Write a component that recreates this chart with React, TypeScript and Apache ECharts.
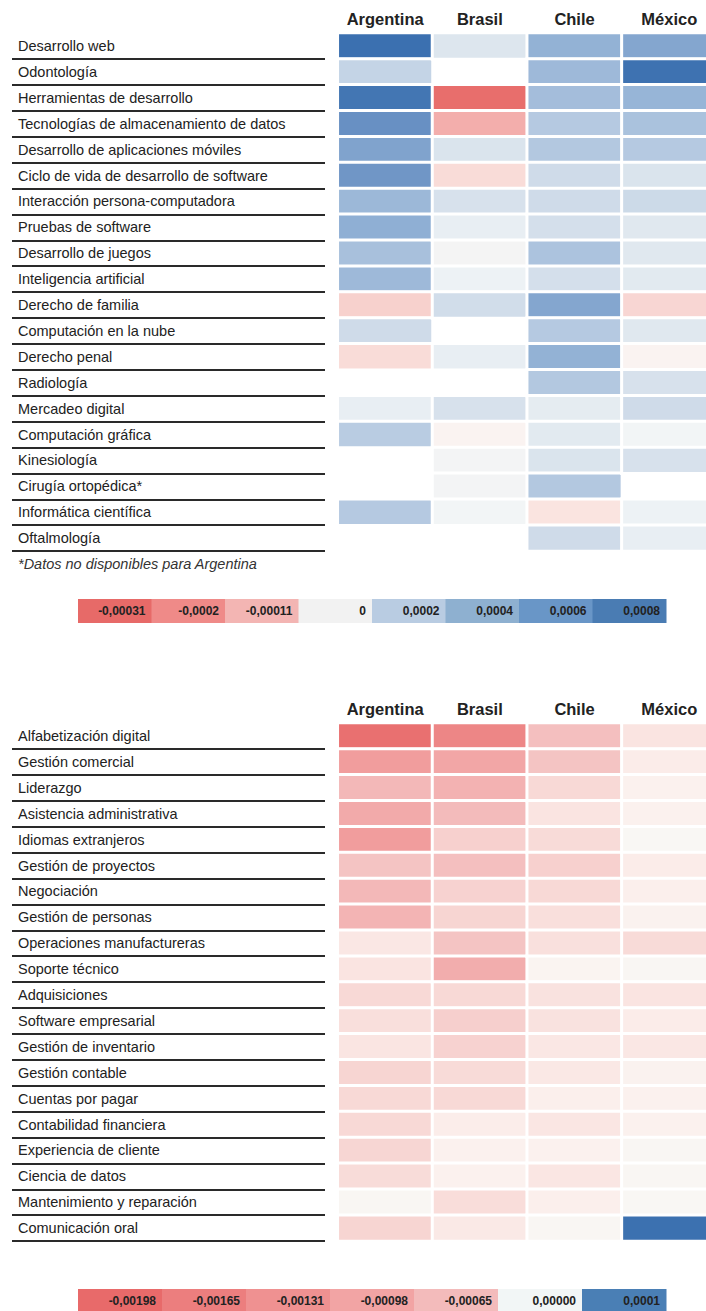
import React, { useEffect, useRef } from "react";
import * as echarts from "echarts";

// ---------- DATA ----------
const countries = ["Argentina", "Brasil", "Chile", "México"];

const skills1 = [
  "Desarrollo web",
  "Odontología",
  "Herramientas de desarrollo",
  "Tecnologías de almacenamiento de datos",
  "Desarrollo de aplicaciones móviles",
  "Ciclo de vida de desarrollo de software",
  "Interacción persona-computadora",
  "Pruebas de software",
  "Desarrollo de juegos",
  "Inteligencia artificial",
  "Derecho de familia",
  "Computación en la nube",
  "Derecho penal",
  "Radiología",
  "Mercadeo digital",
  "Computación gráfica",
  "Kinesiología",
  "Cirugía ortopédica*",
  "Informática científica",
  "Oftalmología",
];
const arg1 = [0.0009, 0.00016, 0.00085, 0.00062, 0.00048, 0.00057, 0.00034, 0.0004, 0.00028, 0.00033, -0.00006, 0.00012, -0.00004, null, 0.00003, 0.0002, null, null, 0.00022, null];
const bra1 = [0.00007, null, -0.0003, -0.00012, 0.00008, -0.00004, 0.00009, 0.00003, 0.0, 0.00002, 0.00011, null, 0.00003, null, 0.00009, -0.00001, 0.000005, 0.000005, 0.00001, null];
const chi1 = [0.00038, 0.00033, 0.0003, 0.00022, 0.00023, 0.00012, 0.00012, 0.0001, 0.00026, 0.0001, 0.00046, 0.00022, 0.00038, 0.00023, 0.00004, 0.00005, 0.00008, 0.00023, -0.00003, 0.00012];
const mex1 = [0.00046, 0.00088, 0.00036, 0.00027, 0.00022, 0.00008, 0.00013, 0.00006, 0.00006, 0.00005, -0.00005, 0.00006, -0.00001, 0.00009, 0.00012, 0.00001, 0.00009, null, 0.00002, 0.00003];

const skills2 = [
  "Alfabetización digital",
  "Gestión comercial",
  "Liderazgo",
  "Asistencia administrativa",
  "Idiomas extranjeros",
  "Gestión de proyectos",
  "Negociación",
  "Gestión de personas",
  "Operaciones manufactureras",
  "Soporte técnico",
  "Adquisiciones",
  "Software empresarial",
  "Gestión de inventario",
  "Gestión contable",
  "Cuentas por pagar",
  "Contabilidad financiera",
  "Experiencia de cliente",
  "Ciencia de datos",
  "Mantenimiento y reparación",
  "Comunicación oral",
];
const arg2 = [-0.0019, -0.0011, -0.0007, -0.0009, -0.0011, -0.00055, -0.0007, -0.00075, -0.00017, -0.0002, -0.0003, -0.00025, -0.00019, -0.00035, -0.0003, -0.0003, -0.00034, -0.00027, -0.00002, -0.00035];
const bra2 = [-0.0015, -0.00095, -0.00078, -0.00065, -0.0004, -0.0006, -0.00038, -0.00035, -0.00055, -0.00085, -0.0003, -0.00042, -0.00038, -0.00028, -0.0003, -0.00012, -0.00008, -0.00008, -0.00026, -0.00015];
const chi2 = [-0.0006, -0.00055, -0.0003, -0.0002, -0.00028, -0.0004, -0.0003, -0.00025, -0.00024, -0.00004, -0.00022, -0.00022, -0.00017, -0.00016, -0.0001, -0.00018, -0.00008, -0.00018, -0.0001, -0.00002];
const mex2 = [-0.0002, -0.00013, -0.00008, -0.00008, -0.00001, -0.00013, -0.0001, -0.00007, -0.00028, -0.00002, -0.0002, -0.00013, -0.00017, -0.00007, -0.00008, -0.00008, -0.00002, -0.00002, -0.00001, 0.0001];

const legendLabels1 = ["-0,00031", "-0,0002", "-0,00011", "0", "0,0002", "0,0004", "0,0006", "0,0008"];
const legendColors1 = ["#e76a68", "#ef8a88", "#f3b5b3", "#f2f2f2", "#b9cce2", "#8eb0d0", "#6996c7", "#4a7cb3"];
const legendLabels2 = ["-0,00198", "-0,00165", "-0,00131", "-0,00098", "-0,00065", "0,00000", "0,0001"];
const legendColors2 = ["#e86a6a", "#ec7e7e", "#ef9191", "#f2a4a4", "#f3bbbb", "#f2f6f6", "#4a7fb5"];

const footnote = "*Datos no disponibles para Argentina";

// colour scale anchors (value, colour)
const scale1: [number, string][] = [
  [-0.00031, "#e76b69"],
  [-0.0002, "#ef8c8a"],
  [-0.00011, "#f3b3b1"],
  [-0.00004, "#f9dcd8"],
  [-0.00001, "#fbf4f1"],
  [0, "#f3f4f4"],
  [0.00001, "#f2f5f7"],
  [0.00003, "#e8eef2"],
  [0.0001, "#d4dfeb"],
  [0.0002, "#b9cce2"],
  [0.0004, "#8fafd4"],
  [0.0006, "#6b92c4"],
  [0.0009, "#3b70b0"],
];
const scale2: [number, string][] = [
  [-0.002, "#e86a6a"],
  [-0.00165, "#eb7e7e"],
  [-0.00131, "#ef9191"],
  [-0.00098, "#f2a4a4"],
  [-0.00065, "#f3bbbb"],
  [-0.0003, "#f8d9d6"],
  [-0.0001, "#fbefec"],
  [0, "#f9f8f5"],
  [0.0001, "#3c71b0"],
];

// ---------- helpers ----------
function hexToRgb(h: string) {
  const n = parseInt(h.slice(1), 16);
  return [(n >> 16) & 255, (n >> 8) & 255, n & 255];
}
function rgbToHex(r: number, g: number, b: number) {
  return "#" + [r, g, b].map((v) => Math.round(v).toString(16).padStart(2, "0")).join("");
}
function buildRamp(anchors: [number, string][], n: number) {
  const min = anchors[0][0];
  const max = anchors[anchors.length - 1][0];
  const out: string[] = [];
  for (let i = 0; i < n; i++) {
    const v = min + ((max - min) * i) / (n - 1);
    let k = 0;
    while (k < anchors.length - 2 && v > anchors[k + 1][0]) k++;
    const [v0, c0] = anchors[k];
    const [v1, c1] = anchors[k + 1];
    const t = Math.max(0, Math.min(1, (v - v0) / (v1 - v0)));
    const a = hexToRgb(c0);
    const b = hexToRgb(c1);
    out.push(rgbToHex(a[0] + (b[0] - a[0]) * t, a[1] + (b[1] - a[1]) * t, a[2] + (b[2] - a[2]) * t));
  }
  return { min, max, colors: out };
}
function buildData(cols: (number | null)[][]) {
  const data: [number, number, number][] = [];
  cols.forEach((col, j) => {
    col.forEach((v, i) => {
      if (v !== null && v !== undefined) data.push([j, i, v]);
    });
  });
  return data;
}

const FONT = "'Liberation Sans', Arial, Helvetica, sans-serif";
const W = 706;
const H = 1311;
const LABEL_LEFT = 12;
const LABEL_W = 313;
const HEAT_LEFT = 337.8;
const HEAT_W = 378.8;
const ROWS_H = 518;
const TOP1 = 33.05;
const OFFSET2 = 690;

function legendGraphics(labels: string[], colors: string[], top: number) {
  const left = 78;
  const total = 588;
  const w = total / labels.length;
  const els: any[] = [];
  labels.forEach((lab, i) => {
    els.push({
      type: "rect",
      shape: { x: left + i * w, y: top, width: w + 0.5, height: 24 },
      style: { fill: colors[i] },
      silent: true,
    });
    els.push({
      type: "text",
      x: left + (i + 1) * w - 6,
      y: top + 12,
      style: {
        text: lab,
        fill: "#222",
        font: `bold 12px ${FONT}`,
        align: "right",
        verticalAlign: "middle",
        textAlign: "right",
        textVerticalAlign: "middle",
      },
      silent: true,
    });
  });
  return els;
}

export default function App() {
  const ref = useRef<HTMLDivElement>(null);
  useEffect(() => {
    if (!ref.current) return;
    const chart = echarts.init(ref.current, null, { renderer: "svg" });
    const r1 = buildRamp(scale1, 241);
    const r2 = buildRamp(scale2, 421);
    const top2 = TOP1 + OFFSET2;

    const labelY = (data: string[], gridIndex: number) => ({
      type: "category",
      gridIndex,
      data,
      inverse: true,
      axisLine: { show: false },
      axisTick: { show: false },
      axisLabel: {
        inside: true,
        interval: 0,
        margin: 6,
        align: "left",
        color: "#222",
        fontSize: 14.5,
        fontFamily: FONT,
      },
      splitLine: { show: true, showMinLine: false, showMaxLine: true, lineStyle: { color: "#2a2a2a", width: 2 } },
    });
    const heatY = (data: string[], gridIndex: number) => ({
      type: "category",
      gridIndex,
      data,
      inverse: true,
      axisLine: { show: false },
      axisTick: { show: false },
      axisLabel: { show: false },
      splitLine: { show: false },
    });
    const hiddenX = (gridIndex: number) => ({ type: "value", gridIndex, show: false, min: 0, max: 1 });
    const heatX = (gridIndex: number) => ({
      type: "category",
      gridIndex,
      data: countries,
      position: "top",
      axisLine: { show: false },
      axisTick: { show: false },
      splitLine: { show: false },
      axisLabel: {
        interval: 0,
        hideOverlap: false,
        color: "#222",
        fontSize: 16.5,
        fontWeight: "bold",
        fontFamily: FONT,
        margin: 14,
        verticalAlign: "middle",
      },
    });
    const heatSeries = (idx: number, data: any[]) => ({
      type: "heatmap",
      xAxisIndex: idx,
      yAxisIndex: idx,
      data,
      itemStyle: { borderColor: "#ffffff", borderWidth: 3 },
      emphasis: { disabled: true },
      progressive: 0,
    });
    const g = (left: number, top: number, width: number) => ({
      left,
      top,
      width,
      height: ROWS_H,
      containLabel: false,
      outerBoundsMode: "none",
    });

    chart.setOption({
      animation: false,
      backgroundColor: "#ffffff",
      textStyle: { fontFamily: FONT },
      grid: [
        g(LABEL_LEFT, TOP1, LABEL_W),
        g(HEAT_LEFT, TOP1, HEAT_W),
        g(LABEL_LEFT, top2, LABEL_W),
        g(HEAT_LEFT, top2, HEAT_W),
      ],
      xAxis: [hiddenX(0), heatX(1), hiddenX(2), heatX(3)],
      yAxis: [labelY(skills1, 0), heatY(skills1, 1), labelY(skills2, 2), heatY(skills2, 3)],
      visualMap: [
        { type: "continuous", show: false, seriesIndex: 0, dimension: 2, min: r1.min, max: r1.max, inRange: { color: r1.colors } },
        { type: "continuous", show: false, seriesIndex: 1, dimension: 2, min: r2.min, max: r2.max, inRange: { color: r2.colors } },
      ],
      series: [
        heatSeries(1, buildData([arg1, bra1, chi1, mex1])),
        heatSeries(3, buildData([arg2, bra2, chi2, mex2])),
      ],
      graphic: [
        {
          type: "text",
          x: 18,
          y: 563.5,
          style: {
            text: footnote,
            fill: "#333",
            font: `italic 14.5px ${FONT}`,
            verticalAlign: "middle",
            textVerticalAlign: "middle",
          },
          silent: true,
        },
        ...legendGraphics(legendLabels1, legendColors1, 599),
        ...legendGraphics(legendLabels2, legendColors2, 599 + OFFSET2),
      ],
    });
    return () => chart.dispose();
  }, []);
  return (
    <div
      ref={ref}
      style={{ position: "absolute", left: 0, top: 0, width: W, height: H, overflow: "hidden" }}
    />
  );
}
